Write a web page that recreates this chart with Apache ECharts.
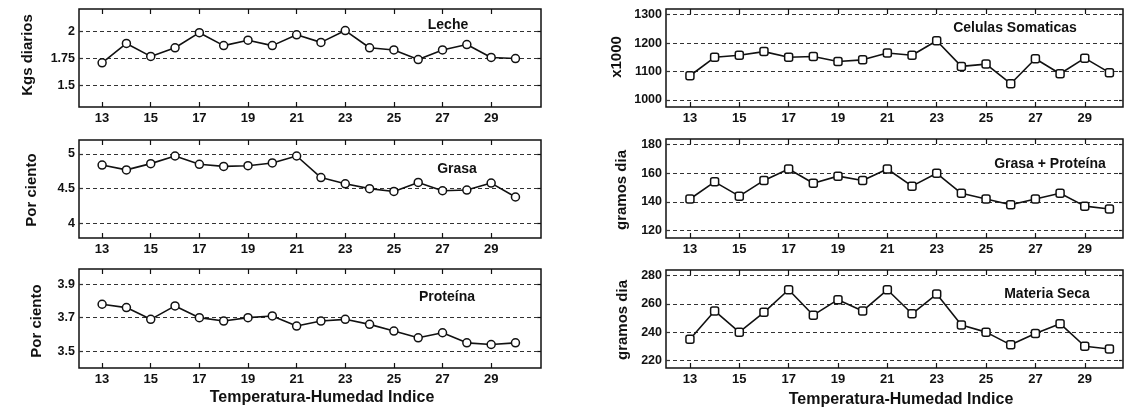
<!DOCTYPE html>
<html>
<head>
<meta charset="utf-8">
<script src="https://cdn.jsdelivr.net/npm/echarts@6/dist/echarts.min.js"></script>
<style>
html,body{margin:0;padding:0;background:#fff;}
#chart{width:1126px;height:411px;}
</style>
</head>
<body>
<div id="chart"></div>
<script>
// ---- data ----
const thi = [13,14,15,16,17,18,19,20,21,22,23,24,25,26,27,28,29,30];
const xTicks = [13,15,17,19,21,23,25,27,29];

const leche    = [1.71,1.89,1.77,1.85,1.99,1.87,1.92,1.87,1.97,1.90,2.01,1.85,1.83,1.74,1.83,1.88,1.76,1.75];
const grasa    = [4.84,4.77,4.86,4.97,4.85,4.82,4.83,4.87,4.97,4.66,4.57,4.50,4.46,4.59,4.47,4.48,4.58,4.38];
const proteina = [3.78,3.76,3.69,3.77,3.70,3.68,3.70,3.71,3.65,3.68,3.69,3.66,3.62,3.58,3.61,3.55,3.54,3.55];
const celulas  = [1085,1150,1157,1170,1150,1153,1135,1141,1165,1157,1208,1118,1126,1057,1145,1092,1147,1096];
const grasaProteina = [142,154,144,155,163,153,158,155,163,151,160,146,142,138,142,146,137,135];
const materiaSeca   = [235,255,240,254,270,252,263,255,270,253,267,245,240,231,239,246,230,228];

const lecheTicks    = [1.5,1.75,2];
const grasaTicks    = [4,4.5,5];
const proteinaTicks = [3.5,3.7,3.9];
const celulasTicks  = [1000,1100,1200,1300];
const gpTicks       = [120,140,160,180];
const msTicks       = [220,240,260,280];

const panelTitles = ['Leche','Grasa','Proteína','Celulas Somaticas','Grasa + Proteína','Materia Seca'];
const yNames = ['Kgs diarios','Por ciento','Por ciento','x1000','gramos dia','gramos dia'];
const xTitle = 'Temperatura-Humedad Indice';

// ---- layout ----
const panels = [
  {grid:{left:79, top:9,   width:462, height:98}, x:[12.05,31.05], y:[1.30,2.21], vals:leche, ticks:lecheTicks, sym:'circle'},
  {grid:{left:79, top:140, width:462, height:98}, x:[12.05,31.05], y:[3.79,5.20], vals:grasa, ticks:grasaTicks, sym:'circle'},
  {grid:{left:79, top:269, width:462, height:99}, x:[12.05,31.05], y:[3.40,3.99], vals:proteina, ticks:proteinaTicks, sym:'circle'},
  {grid:{left:666,top:9,   width:457, height:98}, x:[12.03,30.55], y:[975,1320], vals:celulas, ticks:celulasTicks, sym:'roundRect'},
  {grid:{left:666,top:139, width:457, height:99}, x:[12.03,30.55], y:[114.7,184], vals:grasaProteina, ticks:gpTicks, sym:'roundRect'},
  {grid:{left:666,top:270, width:457, height:98}, x:[12.03,30.55], y:[214.6,284], vals:materiaSeca, ticks:msTicks, sym:'roundRect'}
];

const labelFont = {fontFamily:'Liberation Sans, Arial, sans-serif', fontWeight:'bold', color:'#111'};
const plain = v => String(v);
const grids=[], xAxes=[], yAxes=[], series=[];
panels.forEach((p,i)=>{
  grids.push(Object.assign({show:true, borderColor:'#111', borderWidth:1.5, backgroundColor:'transparent', containLabel:false}, p.grid));
  xAxes.push({type:'value', gridIndex:i, min:p.x[0], max:p.x[1], position:'bottom',
    axisLine:{show:false}, splitLine:{show:false},
    axisTick:{show:true, inside:true, length:5, customValues:xTicks, lineStyle:{color:'#111', width:1.2}},
    axisLabel:Object.assign({customValues:xTicks, fontSize:13, margin:5, formatter:plain}, labelFont)});
  xAxes.push({type:'value', gridIndex:i, min:p.x[0], max:p.x[1], position:'top',
    axisLine:{show:false}, splitLine:{show:false},
    axisTick:{show:true, inside:true, length:5, customValues:xTicks, lineStyle:{color:'#111', width:1.2}},
    axisLabel:{show:false}});
  yAxes.push({type:'value', gridIndex:i, min:p.y[0], max:p.y[1], position:'left',
    axisLine:{show:false}, splitLine:{show:false},
    axisTick:{show:true, inside:true, length:4, customValues:p.ticks, lineStyle:{color:'#111', width:1.2}},
    axisLabel:Object.assign({customValues:p.ticks, fontSize:12.5, margin:4, formatter:plain}, labelFont)});
  yAxes.push({type:'value', gridIndex:i, min:p.y[0], max:p.y[1], position:'right',
    axisLine:{show:false}, splitLine:{show:false},
    axisTick:{show:true, inside:true, length:4, customValues:p.ticks, lineStyle:{color:'#111', width:1.2}},
    axisLabel:{show:false}});
  series.push({type:'line', xAxisIndex:2*i, yAxisIndex:2*i,
    data: thi.map((x,k)=>[x, p.vals[k]]),
    symbol:p.sym, symbolSize:8, showAllSymbol:true,
    lineStyle:{color:'#111', width:1.6},
    itemStyle:{color:'#fff', borderColor:'#111', borderWidth:1.5},
    emphasis:{disabled:true}, animation:false, z:5,
    markLine:{silent:true, symbol:'none', animation:false,
      label:{show:false},
      lineStyle:{color:'#333', type:[4,3], width:1},
      data: p.ticks.map(v=>({yAxis:v}))}
  });
});

const txt = (x,y,text,size,opts)=>Object.assign({type:'text', x:x, y:y, silent:true,
  style:{text:text, font:'bold '+size+'px "Liberation Sans", Arial, sans-serif', fill:'#111', align:'center', verticalAlign:'middle'}}, opts||{});

const graphic = [
  txt(448,25,panelTitles[0],14),
  txt(457,169,panelTitles[1],14),
  txt(447,297,panelTitles[2],14),
  txt(1015,28,panelTitles[3],14),
  txt(1050,164,panelTitles[4],14),
  txt(1047,294,panelTitles[5],14),
  txt(28,55,yNames[0],15,{rotation:Math.PI/2}),
  txt(32,190,yNames[1],15,{rotation:Math.PI/2}),
  txt(37,321,yNames[2],15,{rotation:Math.PI/2}),
  txt(617,57,yNames[3],15,{rotation:Math.PI/2}),
  txt(622,190,yNames[4],15,{rotation:Math.PI/2}),
  txt(623,320,yNames[5],15,{rotation:Math.PI/2}),
  txt(322,398,xTitle,16),
  txt(901,400,xTitle,16)
];

const chart = echarts.init(document.getElementById('chart'), null, {renderer:'canvas'});
chart.setOption({animation:false, grid:grids, xAxis:xAxes, yAxis:yAxes, series:series, graphic:graphic});
</script>
</body>
</html>
